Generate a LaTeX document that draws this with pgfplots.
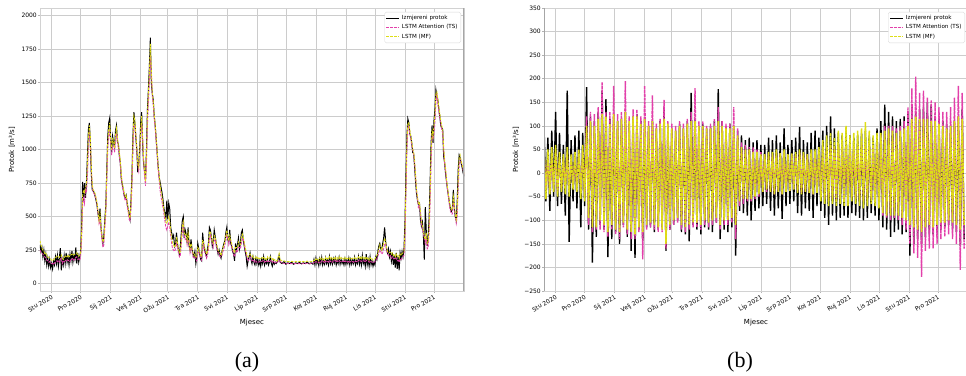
\documentclass[border=0pt]{standalone}
\usepackage{pgfplots}
\usepackage{pgfplotstable}
\pgfplotsset{compat=1.18}
\usepackage{fontspec}
\setmainfont{DejaVu Sans}
\newfontfamily\capfont{Liberation Serif}
\definecolor{tsmag}{RGB}{226,64,170}
\definecolor{mfyel}{RGB}{222,222,22}

\pgfplotstableread{
d m t f
-12 290 250 320
-11 240 230 290
-10 270 225 265
-9 200 220 250
-8 250 205 240
-7 170 200 225
-6 220 190 230
-5 140 175 205
-4 190 170 200
-3 130 160 195
-2 180 165 190
-1 120 155 185
0 150 150 175
1 110 150 170
2 170 140 180
3 140 155 185
4 200 160 195
5 150 170 200
6 210 165 205
7 130 175 200
8 190 160 195
9 265 180 210
10 100 190 215
11 180 150 190
12 140 165 180
13 210 160 195
14 150 170 205
15 230 175 210
16 160 180 200
17 200 170 215
18 140 175 200
19 220 165 205
20 170 185 215
21 245 180 220
22 160 190 210
23 210 175 215
24 180 185 220
25 270 195 225
26 150 200 230
27 230 180 215
28 160 185 205
29 200 175 210
30 240 200 230
31 420 330 380
32 760 580 650
33 620 650 700
34 750 600 680
35 640 700 720
36 760 680 740
37 950 800 900
38 1150 1000 1100
39 1200 1120 1180
40 1050 1080 1100
41 820 850 880
42 700 720 740
43 690 680 700
44 680 670 690
45 650 650 670
46 620 630 640
47 580 580 600
48 520 520 540
49 480 450 470
50 560 480 520
51 420 400 430
52 350 330 360
53 300 270 310
54 360 290 330
55 480 420 460
56 580 520 560
57 850 780 820
58 1100 1000 1060
59 1200 1100 1150
60 1235 1150 1200
61 1080 1050 1070
62 980 960 1000
63 1100 1020 1080
64 1050 1030 1060
65 1020 980 1010
66 1140 1060 1110
67 1180 1120 1160
68 1060 1080 1090
69 1040 1000 1030
70 950 960 980
71 900 880 920
72 780 800 820
73 740 720 750
74 700 700 720
75 660 650 680
76 640 620 650
77 660 640 660
78 600 580 610
79 560 540 570
80 520 480 510
81 480 470 490
82 620 560 600
83 800 720 780
84 1100 1000 1060
85 1280 1180 1250
86 1200 1180 1220
87 1090 1100 1120
88 1000 1000 1020
89 830 880 900
90 900 840 870
91 1000 950 980
92 1200 1100 1160
93 1280 1200 1250
94 1050 1080 1100
95 900 920 940
96 840 800 840
97 780 730 760
98 1000 900 960
99 1300 1180 1260
100 1450 1350 1420
101 1620 1500 1580
102 1836 1700 1790
103 1500 1580 1600
104 1420 1400 1430
105 1370 1330 1360
106 1250 1230 1260
107 1180 1160 1190
108 1080 1060 1090
109 980 960 1000
110 880 860 890
111 800 780 820
112 760 700 740
113 720 650 690
114 680 610 650
115 630 570 600
116 560 520 550
117 530 470 510
118 470 420 460
119 620 400 450
120 480 430 470
121 600 460 500
122 560 420 470
123 420 360 400
124 380 300 340
125 340 260 300
126 360 250 290
127 280 240 270
128 300 260 290
129 380 300 350
130 300 280 310
131 250 230 260
132 220 200 230
133 280 210 240
134 380 290 330
135 470 380 420
136 500 440 460
137 340 360 380
138 400 330 360
139 370 340 370
140 300 290 320
141 420 330 380
142 280 300 320
143 250 230 260
144 330 270 300
145 260 240 270
146 220 200 230
147 200 190 210
148 240 200 220
149 150 180 200
150 200 170 200
151 300 230 270
152 260 240 260
153 220 210 240
154 180 190 210
155 170 175 200
156 380 260 320
157 300 290 310
158 250 240 270
159 230 220 250
160 200 190 220
161 260 210 240
162 300 250 280
163 420 330 380
164 400 360 390
165 350 320 350
166 280 300 310
167 320 270 300
168 400 320 360
169 350 330 350
170 300 280 310
171 260 250 280
172 220 230 250
173 250 220 240
174 210 200 230
175 190 200 210
176 240 210 240
177 270 240 270
178 300 260 290
179 320 290 320
180 380 320 360
181 420 360 400
182 330 340 350
183 310 290 320
184 400 320 360
185 300 320 330
186 280 270 300
187 240 250 270
188 220 220 250
189 170 200 230
190 300 230 270
191 250 250 270
192 290 240 270
193 340 270 310
194 260 270 290
195 300 260 290
196 380 300 340
197 400 340 370
198 320 330 350
199 280 290 310
200 240 250 270
201 200 220 240
202 130 190 210
203 170 170 200
204 200 180 210
205 230 200 220
206 180 190 210
207 150 170 200
208 200 180 210
209 160 170 190
210 140 160 185
211 190 170 200
212 150 160 185
213 180 165 195
214 140 160 180
215 170 165 190
216 130 160 185
217 180 165 195
218 150 170 190
219 200 175 200
220 140 160 185
221 170 165 195
222 150 160 180
223 180 170 200
224 140 160 185
225 160 165 190
226 200 170 200
227 150 175 195
228 130 160 180
229 170 165 190
230 145 155 175
231 160 160 180
232 150 155 170
233 160 155 170
235 210 175 225
236 160 165 180
238 150 155 170
240 165 150 170
242 145 150 165
244 155 150 165
246 150 148 163
248 160 150 166
250 145 148 162
252 155 150 165
254 150 148 163
256 158 150 166
258 148 147 162
260 155 150 165
262 150 148 163
264 160 152 168
266 148 148 162
268 155 150 165
270 145 150 165
271 180 160 175
272 140 155 170
273 190 165 185
274 150 160 180
275 175 165 185
276 135 155 170
277 185 165 190
278 150 160 180
279 195 170 190
280 140 160 175
281 170 165 185
282 145 155 175
283 190 170 195
284 150 160 180
285 175 165 190
286 140 160 180
287 200 175 200
288 150 165 185
289 180 170 195
290 145 160 180
291 185 170 195
292 155 165 185
293 190 175 200
294 140 160 180
295 175 170 195
296 150 165 185
297 195 175 200
298 145 165 180
299 180 170 195
300 150 165 185
301 170 170 190
302 140 160 180
303 185 170 195
304 145 160 180
305 175 165 190
306 150 160 185
307 190 170 195
308 140 160 180
309 180 165 190
310 145 160 185
311 175 165 190
312 150 160 185
313 195 170 195
314 140 165 180
315 170 165 190
316 150 160 185
317 200 175 200
318 145 165 185
319 185 170 195
320 140 165 180
321 210 175 200
322 150 170 190
323 175 170 195
324 130 160 180
325 220 175 200
326 140 170 185
327 180 170 195
328 130 160 175
329 200 170 195
330 140 165 180
331 170 160 185
332 130 155 175
333 160 160 180
334 140 165 185
335 200 180 200
336 180 185 210
337 240 200 230
338 280 230 260
339 300 250 290
340 260 240 270
341 250 220 250
342 300 230 270
343 340 260 300
344 420 300 340
345 320 300 310
346 260 250 270
347 230 220 240
348 260 210 240
349 200 200 230
350 240 210 235
351 170 190 220
352 230 200 230
353 140 185 210
354 210 190 220
355 120 180 200
356 230 190 220
357 110 170 200
358 200 175 210
359 100 160 190
360 230 185 220
361 190 180 210
362 240 190 225
363 200 200 230
364 260 210 240
365 450 320 380
366 800 650 720
367 1100 980 1050
368 1230 1150 1200
369 1200 1180 1200
370 1120 1120 1150
371 1100 1080 1100
372 1050 1030 1060
373 980 1000 1010
374 970 960 980
375 870 900 920
376 760 800 810
377 670 690 700
378 620 630 650
379 590 560 590
380 600 580 600
381 480 520 540
382 430 450 470
383 460 400 430
384 370 380 400
385 180 330 350
386 570 300 330
387 400 350 380
388 280 260 300
389 350 270 310
390 500 380 430
391 760 600 680
392 1050 900 980
393 1180 1100 1150
394 1050 1080 1100
395 1220 1120 1180
396 1300 1200 1260
397 1445 1350 1420
398 1400 1420 1430
399 1370 1340 1380
400 1300 1280 1320
401 1250 1240 1270
402 1180 1190 1220
403 1160 1150 1180
404 1150 1120 1150
405 950 1000 1020
406 900 900 920
407 820 840 860
408 760 760 780
409 700 700 720
410 650 640 660
411 600 580 610
412 560 540 570
413 540 520 550
414 560 520 550
415 700 600 650
416 560 580 600
417 500 500 520
418 470 450 480
419 620 500 560
420 850 700 780
421 960 880 940
422 940 930 960
423 900 910 920
424 870 880 890
425 830 850 860
426 800 810 820
}\tabA

\pgfplotstableread{
d m t f
-12 100 40 60
-10 -60 -35 -55
-8 75 30 50
-6 -80 -40 -45
-4 90 35 55
-2 -50 -30 -40
0 130 45 60
2 -70 -40 -50
4 85 30 45
6 -65 -35 -40
8 60 30 40
10 -90 -30 -45
12 175 45 55
14 -146 -35 -50
16 70 30 40
18 -60 -30 -35
20 80 35 45
22 -75 -35 -40
24 90 40 50
26 -115 -40 -55
28 85 45 60
30 -70 -50 -60
32 182 120 100
34 -120 -110 -95
36 120 130 110
38 -190 -125 -115
40 110 125 100
42 -135 -120 -115
44 130 140 115
46 -110 -120 -100
48 175 193 125
50 -120 -125 -110
52 157 130 120
54 -178 -135 -125
56 115 130 105
58 -140 -120 -110
60 120 185 125
62 -125 -130 -120
64 110 125 110
66 -150 -140 -125
68 115 130 115
70 -110 -115 -105
72 130 195 130
74 -135 -130 -120
76 105 120 110
78 -165 -140 -125
80 120 135 120
82 -180 -140 -130
84 125 135 120
86 -120 -125 -115
88 110 120 105
90 -145 -183 -125
92 115 185 115
94 -115 -120 -110
96 100 110 100
98 -115 -115 -105
100 110 165 110
102 -125 -120 -110
104 95 105 95
106 -120 -125 -115
108 110 115 105
110 -115 -125 -120
112 140 155 115
114 -165 -160 -150
116 100 110 105
118 -120 -120 -110
120 95 105 95
122 -110 -110 -100
124 90 100 90
126 -100 -105 -95
128 105 110 100
130 -125 -120 -110
132 95 105 95
134 -130 -125 -115
136 110 115 105
138 -145 -120 -110
140 170 130 110
142 -110 -115 -105
144 115 180 110
146 -120 -115 -105
148 100 110 100
150 -130 -120 -110
152 105 110 100
154 -115 -110 -100
156 95 100 95
158 -120 -115 -105
160 100 105 95
162 -125 -110 -100
164 110 115 100
166 -105 -105 -95
168 178 140 110
170 -140 -120 -110
172 110 110 100
174 -120 -110 -100
176 100 105 95
178 -125 -110 -100
180 105 105 95
182 -115 -105 -95
184 100 140 100
186 -175 -140 -110
188 90 95 80
190 -80 -70 -60
192 80 65 55
194 -85 -65 -55
196 70 60 50
198 -90 -60 -55
200 75 55 50
202 -100 -60 -55
204 65 55 45
206 -80 -55 -50
208 70 50 45
210 -75 -50 -45
212 60 45 40
214 -70 -40 -40
216 60 40 40
218 -65 -40 -35
220 75 40 45
222 -80 -40 -40
224 70 40 45
226 -90 -45 -45
228 80 45 50
230 -75 -40 -40
232 65 40 42
234 -97 -45 -45
236 95 45 50
238 -70 -40 -40
240 60 38 40
242 -65 -38 -38
244 70 40 42
246 -60 -35 -35
248 75 40 45
250 -85 -40 -42
252 98 45 50
254 -90 -42 -45
256 70 40 45
258 -75 -40 -40
260 65 40 40
262 -80 -40 -42
264 85 45 50
266 -95 -45 -45
268 90 45 50
270 -70 -40 -42
272 75 45 55
274 -80 -50 -60
276 90 55 70
278 -95 -55 -65
280 100 60 80
282 -110 -60 -70
284 120 60 85
286 -90 -55 -65
288 95 55 75
290 -100 -60 -70
292 85 60 90
294 -95 -55 -65
296 80 55 85
298 -90 -55 -70
300 85 60 100
302 -95 -60 -70
304 80 55 80
306 -85 -50 -60
308 75 55 85
310 -90 -55 -65
312 80 55 90
314 -95 -55 -70
316 85 60 95
318 -100 -60 -75
320 90 60 108
322 -95 -55 -70
324 80 55 90
326 -85 -55 -65
328 75 55 80
330 -90 -60 -70
332 95 65 85
334 -100 -70 -75
336 110 80 85
338 -115 -90 -85
340 145 100 90
342 -120 -95 -90
344 130 100 95
346 -135 -100 -90
348 120 100 90
350 -125 -95 -90
352 110 95 85
354 -120 -100 -90
356 115 100 90
358 -130 -110 -95
360 120 110 95
362 -125 -120 -100
364 130 140 100
366 -175 -150 -110
368 140 180 115
370 -150 -170 -115
372 130 205 120
374 -140 -180 -120
376 135 170 115
378 -150 -220 -125
380 140 175 115
382 -135 -165 -115
384 150 160 115
386 -130 -160 -110
388 145 155 110
390 -130 -160 -115
392 120 150 110
394 -125 -150 -110
396 115 140 105
398 -120 -140 -105
400 110 130 100
402 -115 -135 -105
404 105 130 95
406 -110 -130 -100
408 100 140 100
410 -120 -140 -105
412 110 160 110
414 -125 -150 -110
416 120 185 120
418 -155 -205 -120
420 135 170 115
422 -140 -160 -110
}\tabB

\pgfplotsset{
  common/.style={
    scale only axis,
    width=424pt, height=283pt,
    anchor=south west,
    xmin=-12, xmax=426,
    xtick={0,30,61,92,120,151,181,212,242,273,304,334,365,395},
    xticklabels={Stu 2020,Pro 2020,Sij 2021,Velj 2021,Ožu 2021,Tra 2021,Svi 2021,Lip 2021,Srp 2021,Kol 2021,Ruj 2021,Lis 2021,Stu 2021,Pro 2021},
    xticklabel style={font=\fontsize{6}{7}\selectfont, rotate=30, anchor=north east, inner sep=1pt},
    yticklabel style={font=\fontsize{6}{7}\selectfont, inner sep=1pt},
    grid=major,
    major grid style={gray!40, line width=0.6pt},
    axis line style={gray!35, line width=0.6pt},
    tick align=outside,
    major tick length=2pt,
    tick style={gray!60, line width=0.5pt},
    xtick pos=bottom, ytick pos=left,
    xlabel={Mjesec},
    ylabel={Protok [m³/s]},
    label style={font=\fontsize{7}{8}\selectfont},
    xlabel style={at={(axis description cs:0.5,-0.113)}, anchor=center},
    ylabel style={at={(axis description cs:-0.066,0.5)}, anchor=center},
    legend style={at={(0.993,0.986)}, anchor=north east, draw=gray!30, fill=white,
      rounded corners=1.5pt, font=\fontsize{5.6}{6.6}\selectfont, inner sep=1.2pt,
      row sep=-0.5pt, cells={anchor=west}},
    legend image code/.code={\draw[#1] (0pt,0pt) -- (13pt,0pt);},
  },
  meas/.style={black, line width=1.0pt},
  ts/.style={tsmag, line width=0.85pt, dash pattern=on 2.6pt off 1.2pt},
  mf/.style={mfyel, line width=0.85pt, dash pattern=on 2.6pt off 1.2pt},
}

\begin{document}
\begin{tikzpicture}
\useasboundingbox (0,0) rectangle (966pt,375pt);
\clip (0,0) rectangle (966pt,375pt);
\begin{axis}[common, at={(40pt,84pt)},
  ymin=-55, ymax=2057,
  ytick={0,250,500,750,1000,1250,1500,1750,2000},
  yticklabels={0,250,500,750,1000,1250,1500,1750,2000}]
\addplot[meas] table[x=d,y=m] {\tabA};
\addplot[ts] table[x=d,y=t] {\tabA};
\addplot[mf] table[x=d,y=f] {\tabA};
\legend{Izmjereni protok, LSTM Attention (TS), LSTM (MF)}
\draw[gray!70, line width=1.2pt] (rel axis cs:1,0) -- (rel axis cs:1,1);
\end{axis}
\begin{axis}[common, at={(544pt,84pt)},
  ymin=-250, ymax=350,
  ytick={-250,-200,-150,-100,-50,0,50,100,150,200,250,300,350},
  yticklabels={−250,−200,−150,−100,−50,0,50,100,150,200,250,300,350}]
\addplot[meas, line width=1.4pt] table[x=d,y=m] {\tabB};
\addplot[ts, line width=1.4pt, dash pattern=on 3pt off 0.8pt] table[x=d,y=t] {\tabB};
\addplot[mf, line width=1.5pt, dash pattern=on 3.2pt off 0.6pt] table[x=d,y=f] {\tabB};
\legend{Izmjereni protok, LSTM Attention (TS), LSTM (MF)}
\draw[gray!70, line width=1.2pt] (rel axis cs:0,0) -- (rel axis cs:0,1);
\end{axis}
\node[font=\capfont\fontsize{22}{24}\selectfont, anchor=base] at (247pt,7.5pt) {(a)};
\node[font=\capfont\fontsize{22}{24}\selectfont, anchor=base] at (740pt,7.5pt) {(b)};
\end{tikzpicture}
\end{document}
